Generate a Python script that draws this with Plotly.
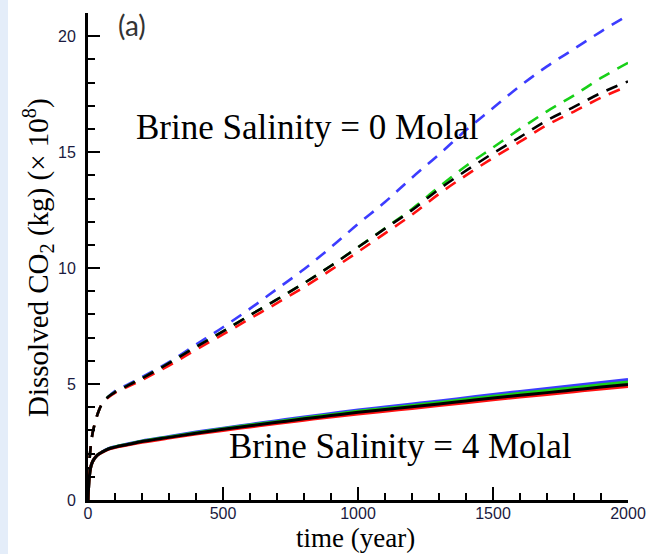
import plotly.graph_objects as go

# ---------------- data ----------------
time = [0, 2, 5, 10, 15, 20, 30, 40, 50, 75, 100, 150, 200, 300, 400, 500, 600, 700,
        800, 900, 1000, 1100, 1200, 1300, 1400, 1500, 1600, 1700, 1800, 1900, 2000]

# Brine salinity = 0 Molal (dashed)
s0_blue = [0, 0.8, 1.6, 2.3, 2.75, 3.05, 3.5, 3.85, 4.1, 4.45, 4.7, 5.0, 5.3, 5.95, 6.7, 7.45,
           8.25, 9.1, 9.95, 10.9, 11.9, 12.85, 13.9, 14.9, 15.95, 16.9, 17.85, 18.7, 19.45, 20.2, 20.9]
s0_green = [0, 0.8, 1.6, 2.3, 2.75, 3.05, 3.5, 3.85, 4.1, 4.45, 4.65, 4.95, 5.25, 5.9, 6.6, 7.27,
            7.97, 8.65, 9.35, 10.1, 10.9, 11.72, 12.55, 13.5, 14.4, 15.2, 16.0, 16.76, 17.45, 18.2, 18.85]
s0_red = [0, 0.8, 1.6, 2.3, 2.75, 3.05, 3.5, 3.85, 4.1, 4.42, 4.62, 4.9, 5.18, 5.8, 6.48, 7.14,
          7.82, 8.49, 9.18, 9.92, 10.7, 11.5, 12.3, 13.2, 14.0, 14.75, 15.45, 16.17, 16.75, 17.35, 17.85]
s0_black = [0, 0.8, 1.6, 2.3, 2.75, 3.05, 3.5, 3.85, 4.1, 4.45, 4.65, 4.95, 5.25, 5.9, 6.6, 7.27,
            7.97, 8.65, 9.35, 10.1, 10.9, 11.7, 12.5, 13.4, 14.2, 14.95, 15.65, 16.37, 16.95, 17.55, 18.05]

# Brine salinity = 4 Molal (solid)
s4_blue = [0, 0.5, 1.0, 1.4, 1.6, 1.72, 1.88, 1.98, 2.06, 2.21, 2.3, 2.43, 2.55, 2.74, 2.93, 3.1,
           3.26, 3.42, 3.58, 3.73, 3.88, 4.01, 4.14, 4.27, 4.41, 4.55, 4.68, 4.81, 4.94, 5.07, 5.2]
s4_green = [0, 0.5, 1.0, 1.4, 1.6, 1.72, 1.88, 1.98, 2.05, 2.2, 2.29, 2.41, 2.53, 2.72, 2.9, 3.07,
            3.23, 3.38, 3.54, 3.68, 3.83, 3.95, 4.08, 4.2, 4.34, 4.47, 4.6, 4.72, 4.84, 4.97, 5.09]
s4_red = [0, 0.5, 1.0, 1.4, 1.6, 1.72, 1.88, 1.97, 2.04, 2.18, 2.26, 2.38, 2.49, 2.67, 2.84, 3.0,
          3.15, 3.3, 3.44, 3.58, 3.71, 3.83, 3.95, 4.07, 4.19, 4.32, 4.44, 4.55, 4.67, 4.79, 4.9]
s4_black = [0, 0.5, 1.0, 1.4, 1.6, 1.72, 1.88, 1.98, 2.05, 2.2, 2.28, 2.4, 2.52, 2.7, 2.88, 3.05,
            3.2, 3.35, 3.5, 3.64, 3.78, 3.9, 4.02, 4.14, 4.27, 4.4, 4.52, 4.63, 4.75, 4.87, 4.98]

x_ticks = [0, 500, 1000, 1500, 2000]
y_ticks = [0, 5, 10, 15, 20]

BLUE = "#3c3cff"
GREEN = "#18d018"
RED = "#ff1010"
BLACK = "#000000"

fig = go.Figure()

dash_style = "12px,9px"
for ys, col in [(s0_blue, BLUE), (s0_green, GREEN), (s0_red, RED), (s0_black, BLACK)]:
    fig.add_trace(go.Scatter(x=time, y=ys, mode="lines", line=dict(color=col, width=2.6, dash=dash_style),
                             line_shape="spline", showlegend=False, hoverinfo="skip"))
for ys, col in [(s4_blue, BLUE), (s4_green, GREEN), (s4_red, RED), (s4_black, BLACK)]:
    fig.add_trace(go.Scatter(x=time, y=ys, mode="lines", line=dict(color=col, width=3),
                             line_shape="spline", showlegend=False, hoverinfo="skip"))

tick_font = dict(family="Liberation Sans, Arial, sans-serif", size=16, color="#1a1a40")
serif = "Liberation Serif, Times New Roman, serif"

PW = 540.0  # plot width in px
PH = 487.0  # plot height in px

fig.update_layout(
    width=647, height=554,
    margin=dict(l=88, r=19, t=13, b=54, autoexpand=False),
    paper_bgcolor="white", plot_bgcolor="white",
    xaxis=dict(range=[0, 2000], tickvals=x_ticks, ticks="inside", ticklen=13, tickwidth=2,
               tickcolor="black", showline=True, linecolor="black", linewidth=3,
               showgrid=False, zeroline=False, tickfont=tick_font, automargin=False,
               ticklabelstandoff=-3,
               minor=dict(dtick=100, ticks="inside", ticklen=7, tickwidth=2, tickcolor="black", showgrid=False)),
    yaxis=dict(range=[0, 21], tickvals=y_ticks, ticks="inside", ticklen=12, tickwidth=2,
               tickcolor="black", showline=True, linecolor="black", linewidth=3,
               showgrid=False, zeroline=False, tickfont=tick_font, automargin=False,
               ticklabelstandoff=6,
               minor=dict(dtick=1, ticks="inside", ticklen=7, tickwidth=2, tickcolor="black", showgrid=False)),
    shapes=[dict(type="rect", xref="paper", yref="paper", x0=-88/PW, x1=-80/PW,
                 y0=-0.12, y1=1.03, fillcolor="#e4edf9", line=dict(width=0), layer="below")],
    annotations=[
        dict(text="(a)", x=(132-88)/PW, y=(500-25)/PH, xref="paper", yref="paper", showarrow=False,
             xanchor="center", yanchor="middle",
             font=dict(family="Lato, Open Sans, sans-serif", size=28, color="#333333")),
        dict(text="Brine Salinity = 0 Molal", x=(134-88)/PW, y=(500-127)/PH, xref="paper", yref="paper",
             xanchor="left", yanchor="middle", showarrow=False,
             font=dict(family=serif, size=35, color="black")),
        dict(text="Brine Salinity = 4 Molal", x=(227-88)/PW, y=(500-446)/PH, xref="paper", yref="paper",
             xanchor="left", yanchor="middle", showarrow=False,
             font=dict(family=serif, size=35, color="black")),
        dict(text="time (year)", x=(355-88)/PW, y=(500-538)/PH, xref="paper", yref="paper",
             xanchor="center", yanchor="middle", borderpad=0,
             showarrow=False, font=dict(family=serif, size=27, color="black")),
        dict(text="Dissolved CO<sub>2</sub> (kg) (× 10<sup>8</sup>)", x=(38-88)/PW, y=(500-258)/PH,
             xref="paper", yref="paper", textangle=-90, showarrow=False,
             xanchor="center", yanchor="middle",
             font=dict(family=serif, size=29, color="black")),
    ],
)

fig.write_html("out.html")
